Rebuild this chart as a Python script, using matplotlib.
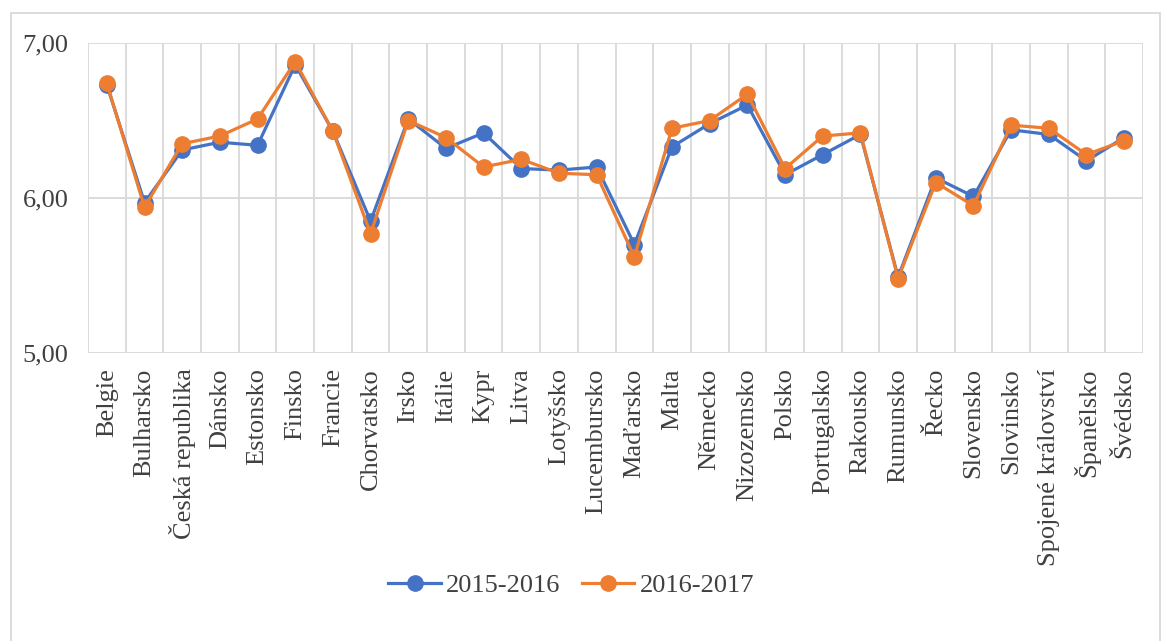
import numpy as np
import matplotlib.pyplot as plt
from matplotlib.patches import Rectangle

countries = [
    "Belgie", "Bulharsko", "Česká republika", "Dánsko", "Estonsko", "Finsko",
    "Francie", "Chorvatsko", "Irsko", "Itálie", "Kypr", "Litva", "Lotyšsko",
    "Lucembursko", "Maďarsko", "Malta", "Německo", "Nizozemsko", "Polsko",
    "Portugalsko", "Rakousko", "Rumunsko", "Řecko", "Slovensko", "Slovinsko",
    "Spojené království", "Španělsko", "Švédsko",
]
vals_2015 = [6.73, 5.97, 6.31, 6.36, 6.34, 6.86, 6.43, 5.85, 6.51, 6.32,
             6.42, 6.19, 6.18, 6.20, 5.70, 6.33, 6.48, 6.60, 6.15, 6.28,
             6.41, 5.49, 6.13, 6.01, 6.44, 6.41, 6.24, 6.39]
vals_2016 = [6.74, 5.94, 6.35, 6.40, 6.51, 6.88, 6.43, 5.77, 6.50, 6.39,
             6.20, 6.25, 6.16, 6.15, 5.62, 6.45, 6.50, 6.67, 6.19, 6.40,
             6.42, 5.48, 6.10, 5.95, 6.47, 6.45, 6.28, 6.37]
series_labels = ["2015-2016", "2016-2017"]

plt.rcParams["font.family"] = ["Liberation Serif", "DejaVu Serif"]

fig = plt.figure(figsize=(11.61, 6.41), dpi=100)
ax = fig.add_axes([0.0758, 0.4493, 0.9087, 0.4836])

x = np.arange(len(countries))
grid_col = "#d9d9d9"

# Excel-style gridlines: horizontal at major ticks, vertical between categories
for yv in [5, 6, 7]:
    ax.axhline(yv, color=grid_col, lw=1.3, zorder=0)
for xv in np.arange(-0.5, len(countries), 1.0):
    ax.axvline(xv, color=grid_col, lw=1.3, zorder=0)

ax.plot(x, vals_2015, color="#4472C4", lw=2.3, marker="o", markersize=11,
        label=series_labels[0], zorder=3)
ax.plot(x, vals_2016, color="#ED7D31", lw=2.3, marker="o", markersize=11,
        label=series_labels[1], zorder=4)

ax.set_xlim(-0.5, len(countries) - 0.5)
ax.set_ylim(5, 7)
ax.set_yticks([5, 6, 7])
ax.set_yticklabels(["5,00", "6,00", "7,00"], fontsize=19, color="#404040")
ax.set_xticks(x)
ax.set_xticklabels(countries, rotation=90, fontsize=19, color="#404040")
ax.tick_params(axis="y", length=0, pad=14)
ax.tick_params(axis="x", length=0, pad=11)
for s in ax.spines.values():
    s.set_visible(False)

fig.legend(loc="center", bbox_to_anchor=(0.492, 0.087), ncol=2, frameon=False,
           fontsize=19, handlelength=2.0, handletextpad=0.2, columnspacing=0.8,
           labelcolor="#404040")

# outer chart border
fig.patches.append(Rectangle((0.0095, -0.01), 0.99, 0.99, transform=fig.transFigure,
                             fill=False, edgecolor=grid_col, lw=1.3))

fig.savefig("out.png", dpi=100)
